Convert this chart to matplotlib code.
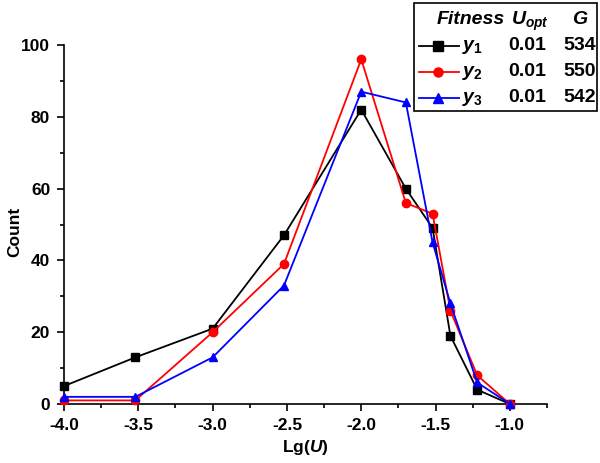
import numpy as np
import matplotlib
matplotlib.use("Agg")
import matplotlib.pyplot as plt
from matplotlib.lines import Line2D
from matplotlib.patches import Rectangle
from matplotlib.ticker import MultipleLocator

plt.rcParams['font.family'] = ['Liberation Sans', 'DejaVu Sans']
plt.rcParams['font.weight'] = 'bold'
plt.rcParams['mathtext.fontset'] = 'custom'
plt.rcParams['mathtext.rm'] = 'Liberation Sans:bold'
plt.rcParams['mathtext.it'] = 'Liberation Sans:italic:bold'
plt.rcParams['mathtext.bf'] = 'Liberation Sans:bold'

# data
lg_u = [-4.0, -3.52, -3.0, -2.52, -2.0, -1.70, -1.52, -1.40, -1.22, -1.0]
y1 = [5, 13, 21, 47, 82, 60, 49, 19, 4, 0]
y2 = [1, 1, 20, 39, 96, 56, 53, 26, 8, 0]
y3 = [2, 2, 13, 33, 87, 84, 45, 28, 6, 0]

names = ['$y_{\\mathit{1}}$', '$y_{\\mathit{2}}$', '$y_{\\mathit{3}}$']
u_opt = ['0.01', '0.01', '0.01']
g_vals = ['534', '550', '542']
colors = ['black', 'red', 'blue']
markers = ['s', 'o', '^']

fig = plt.figure(figsize=(6, 4.63), dpi=100)
ax = fig.add_axes([0.1067, 0.1274, 0.805, 0.7754])

for ys, c, m in zip([y1, y2, y3], colors, markers):
    ax.plot(lg_u, ys, color=c, marker=m, lw=1.3, ms=6, clip_on=False, zorder=3)

ax.set_xlim(-4.0, -0.75)
ax.set_ylim(0, 100)
ax.xaxis.set_major_locator(MultipleLocator(0.5))
ax.xaxis.set_minor_locator(MultipleLocator(0.25))
ax.yaxis.set_major_locator(MultipleLocator(20))
ax.yaxis.set_minor_locator(MultipleLocator(10))
ax.xaxis.set_major_formatter(matplotlib.ticker.FormatStrFormatter('%.1f'))
ax.spines['top'].set_visible(False)
ax.spines['right'].set_visible(False)
for s in ['left', 'bottom']:
    ax.spines[s].set_linewidth(1.2)
ax.tick_params(which='major', length=5, width=1.2, labelsize=12.5, pad=5)
ax.tick_params(which='minor', length=3, width=1.2)
for lbl in ax.get_xticklabels() + ax.get_yticklabels():
    lbl.set_fontweight('bold')

ax.set_xlabel('Lg($U$)', fontsize=12.5, fontweight='bold', va='center')
ax.set_ylabel('Count', fontsize=12.5, fontweight='bold', va='center')
ax.xaxis.set_label_coords(0.499, -0.12)
ax.yaxis.set_label_coords(-0.101, 0.48)

# legend table drawn in figure pixels
W, H = 600, 463
def fx(px):
    return px / W
def fy(py):
    return 1 - py / H

fig.patches.append(Rectangle((fx(414), fy(111)), fx(597) - fx(414), fy(3) - fy(111),
                             transform=fig.transFigure, fill=False, lw=1.2, ec='black'))
fs = 14
fig.text(fx(471), fy(20), 'Fitness', fontsize=fs, fontstyle='italic', fontweight='bold',
         ha='center', va='center')
fig.text(fx(530), fy(21), '$U_{opt}$', fontsize=fs, ha='center', va='center')
fig.text(fx(580), fy(20), '$G$', fontsize=fs, ha='center', va='center')
rows_y = [46, 72, 98]
for i in range(3):
    py = rows_y[i]
    fig.lines.append(Line2D([fx(419), fx(459)], [fy(py), fy(py)], transform=fig.transFigure,
                            color=colors[i], lw=1.3))
    fig.lines.append(Line2D([fx(438)], [fy(py)], transform=fig.transFigure,
                            color=colors[i], marker=markers[i], ms=6.5))
    fig.text(fx(462), fy(py + 1), names[i], fontsize=fs, ha='left', va='center')
    fig.text(fx(527), fy(py), u_opt[i], fontsize=fs, ha='center', va='center')
    fig.text(fx(580), fy(py), g_vals[i], fontsize=fs, ha='center', va='center')

fig.savefig('out.png', dpi=100)
